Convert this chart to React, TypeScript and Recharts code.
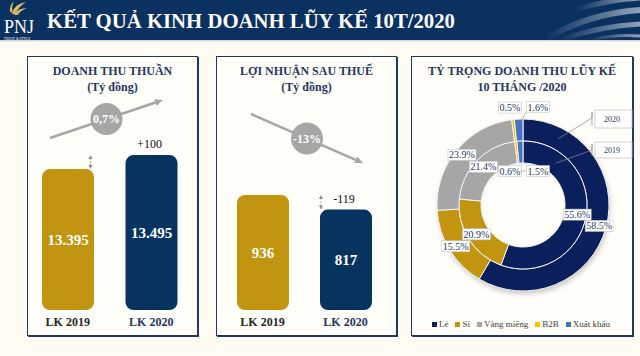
import React from 'react';
import { BarChart, Bar, XAxis, YAxis, Cell, LabelList, PieChart, Pie, Legend } from 'recharts';

const years = ['LK 2019', 'LK 2020'];
const revenue = [13395, 13495];
const revenueChange = ['', '+100'];
const revenueGrowth = '0,7%';
const profit = [936, 817];
const profitChange = ['', '-119'];
const profitGrowth = '-13%';

const segments = ['Lẻ', 'Sỉ', 'Vàng miếng', 'B2B', 'Xuất khẩu'];
const share2019 = [55.6, 20.9, 21.4, 0.6, 1.5];
const share2020 = [58.5, 15.5, 23.9, 0.5, 1.6];

const NAVY = '#1F3864';
const BAR_COLORS = ['#C29511', '#06345F'];
const SEG_COLORS = ['#0B1F5C', '#C29511', '#A6A6A6', '#FFC000', '#4472C4'];
const FONT = '"Liberation Serif", "DejaVu Serif", serif';
const BG = '#FDFBF2';

// donut geometry (inside the pie chart box)
const PIE_LEFT = 411;
const PIE_TOP = 57;
const CX = 112;
const CY = 148;
const R_IN = 42;
const R_MID = 64;
const R_OUT = 86;

const fmtVN = (v: number) => String(v).replace(/\B(?=(\d{3})+(?!\d))/g, '.');

const YearTick = ({ x, y, payload, index }: any) => (
  <text x={x} y={y + 8} textAnchor="middle" fontFamily={FONT} fontSize={12} fontWeight={700}
    fill={index === 1 ? NAVY : '#262626'}>{payload.value}</text>
);

type BarsProps = {
  values: number[];
  changes: string[];
  domain: [number, number];
  left: number;
  width: number;
  arrowDx: number;
};

function YearBars({ values, changes, domain, left, width, arrowDx }: BarsProps) {
  const data = years.map((name, i) => ({ name, value: values[i], change: changes[i] }));
  const lo = domain[0];

  const ChangeLabel = (p: any) => {
    const vb = p.viewBox ?? p;
    const { x, y, width: w, height: h } = vb;
    if (!p.value) return null;
    const base = y + h;
    const perUnit = h / (values[1] - lo);
    const prevTop = base - (values[0] - lo) * perUnit;
    const top = Math.min(y, prevTop);
    const bottom = Math.max(y, prevTop);
    const ax = x + arrowDx;
    return (
      <g>
        <text x={x + w / 2 - 2} y={y - 7} textAnchor="middle" fontFamily={FONT} fontSize={12} fill="#111">{p.value}</text>
        <line x1={ax} x2={ax} y1={top + 3} y2={bottom - 3} stroke="#8C8C8C" strokeWidth={1} strokeDasharray="1.5 1.5" />
        <path d={`M${ax} ${top} l-2 4 h4 z`} fill="#8C8C8C" />
        <path d={`M${ax} ${bottom} l-2 -4 h4 z`} fill="#8C8C8C" />
      </g>
    );
  };

  return (
    <div style={{ position: 'absolute', left, top: 130 }}>
      <BarChart width={width} height={210} data={data} margin={{ top: 20, right: 0, bottom: 0, left: 0 }}>
        <XAxis dataKey="name" axisLine={false} tickLine={false} height={30} interval={0} tick={<YearTick />} />
        <YAxis hide domain={domain} allowDataOverflow />
        <Bar dataKey="value" barSize={52} radius={8} isAnimationActive={false}>
          {data.map((_, i) => (
            <Cell key={`bar-${i}`} fill={BAR_COLORS[i]} />
          ))}
          <LabelList dataKey="value" position="center" formatter={(v: any) => fmtVN(Number(v))}
            fill="#fff" fontFamily={FONT} fontSize={15} fontWeight={700} />
          <LabelList dataKey="change" content={ChangeLabel} />
        </Bar>
      </BarChart>
    </div>
  );
}

const RAD = Math.PI / 180;

const makeLabel = (outer: boolean) => (p: any) => {
  const { cx, cy, midAngle, percent, index, value } = p;
  const tiny = percent < 0.02;
  const r = outer ? (tiny ? 98 : 79) : (tiny ? 34 : 55);
  let x = cx + r * Math.cos(-midAngle * RAD);
  const y = cy + r * Math.sin(-midAngle * RAD);
  if (tiny) x = cx + (index === 3 ? -13 : 15);
  const txt = `${Number(value).toFixed(1)}%`;
  const w = txt.length * 5 + 3;
  const lx = cx + (outer ? (R_MID + R_OUT) / 2 : (R_IN + R_MID) / 2) * Math.cos(-midAngle * RAD);
  const ly = cy + (outer ? R_OUT - 4 : R_MID - 4) * Math.sin(-midAngle * RAD);
  return (
    <g>
      {tiny && index === 4 && (
        <line x1={x - w / 2} y1={outer ? y + 4 : y} x2={outer ? lx + 1 : x - w / 2 - 6} y2={outer ? ly : y} stroke="#8C8C8C" strokeWidth={0.6} />
      )}
      <rect x={x - w / 2} y={y - 5.5} width={w} height={11} fill="#fff" stroke="#C8C8C8" strokeWidth={0.6} />
      <text x={x} y={y + 3.5} textAnchor="middle" fontFamily={FONT} fontSize={10} fill={NAVY}>{txt}</text>
    </g>
  );
};

const SegmentLegend = () => (
  <div style={{ display: 'flex', justifyContent: 'center', gap: 7, fontFamily: FONT, fontSize: 9, color: '#404040' }}>
    {segments.map((s, i) => (
      <span key={s} style={{ display: 'flex', alignItems: 'center', gap: 2 }}>
        <span style={{ width: 5, height: 5, background: SEG_COLORS[i], display: 'inline-block' }} />
        {s}
      </span>
    ))}
  </div>
);

function ShareDonut() {
  const d2019 = segments.map((name, i) => ({ name, value: share2019[i] }));
  const d2020 = segments.map((name, i) => ({ name, value: share2020[i] }));
  return (
    <div style={{ position: 'absolute', left: PIE_LEFT, top: PIE_TOP }}>
      <PieChart width={220} height={280} margin={{ top: 0, right: 0, bottom: 0, left: 0 }}>
        <Pie data={d2020} dataKey="value" nameKey="name" cx={CX} cy={CY} innerRadius={R_MID} outerRadius={R_OUT}
          startAngle={90} endAngle={-270} stroke="#F4F4F4" strokeWidth={1} label={makeLabel(true)} labelLine={false}
          isAnimationActive={false}>
          {d2020.map((_, i) => <Cell key={`o-${i}`} fill={SEG_COLORS[i]} />)}
        </Pie>
        <Pie data={d2019} dataKey="value" nameKey="name" cx={CX} cy={CY} innerRadius={R_IN} outerRadius={R_MID}
          startAngle={90} endAngle={-270} stroke="#F4F4F4" strokeWidth={1} label={makeLabel(false)} labelLine={false}
          isAnimationActive={false}>
          {d2019.map((_, i) => <Cell key={`i-${i}`} fill={SEG_COLORS[i]} />)}
        </Pie>
        <Legend content={<SegmentLegend />} wrapperStyle={{ position: 'absolute', left: 0, top: 262, width: 220, bottom: 'auto' }} />
      </PieChart>
    </div>
  );
}

const panel = (left: number, width: number): React.CSSProperties => ({
  position: 'absolute', left, top: 56, width, height: 280, boxSizing: 'border-box',
  border: `1px solid ${NAVY}`, boxShadow: `1px 1px 0 ${NAVY}`, background: '#FFFEF8',
});

const titleStyle = (left: number, width: number): React.CSSProperties => ({
  position: 'absolute', left, top: 63, width, textAlign: 'center', fontFamily: FONT, fontWeight: 700,
  fontSize: 12, lineHeight: '16px', color: NAVY,
});

const TrendArrow = ({ x1, y1, x2, y2, label }: { x1: number; y1: number; x2: number; y2: number; label: string }) => {
  const ang = Math.atan2(y2 - y1, x2 - x1);
  const mx = (x1 + x2) / 2;
  const my = (y1 + y2) / 2;
  const hx = x2 - 8 * Math.cos(ang);
  const hy = y2 - 8 * Math.sin(ang);
  const px = 3.5 * Math.sin(ang);
  const py = -3.5 * Math.cos(ang);
  return (
    <g>
      <line x1={x1} y1={y1} x2={hx} y2={hy} stroke="#A6A6A6" strokeWidth={2.5} />
      <path d={`M${x2} ${y2} L${hx + px} ${hy + py} L${hx - px} ${hy - py} Z`} fill="#A6A6A6" />
      <circle cx={mx} cy={my} r={16} fill="#A6A6A6" />
      <text x={mx} y={my + 4} textAnchor="middle" fontFamily={FONT} fontSize={12} fontWeight={700} fill="#fff">{label}</text>
    </g>
  );
};

export default function App() {
  const px = PIE_LEFT + CX;
  const py = PIE_TOP + CY;
  const m20 = { x: px + 75 * Math.sin(28 * RAD), y: py - 75 * Math.cos(28 * RAD) };
  const m19 = { x: px + 53 * Math.sin(38 * RAD), y: py - 53 * Math.cos(38 * RAD) };
  return (
    <div style={{ position: 'absolute', left: 0, top: 0, width: 640, height: 356, background: BG, overflow: 'hidden' }}>
      <svg width={640} height={42} style={{ position: 'absolute', left: 0, top: 0 }}>
        <defs>
          <linearGradient id="sw" x1="0" x2="1" y1="0" y2="0">
            <stop offset="0" stopColor="#fff" stopOpacity={0} />
            <stop offset="1" stopColor="#fff" stopOpacity={0.55} />
          </linearGradient>
          <linearGradient id="gold" x1="0" x2="1" y1="0" y2="1">
            <stop offset="0" stopColor="#F3DFA0" />
            <stop offset="1" stopColor="#B88A1E" />
          </linearGradient>
        </defs>
        <rect x={0} y={0} width={640} height={40} fill="#0B3161" />
        <rect x={0} y={40} width={640} height={1.5} fill="#D9D9D9" />
        <path d="M545 40 Q585 14 640 10" stroke="url(#sw)" strokeWidth={6} fill="none" />
        <path d="M560 40 Q600 26 640 24" stroke="url(#sw)" strokeWidth={5} fill="none" />
        <path d="M575 10 Q605 0 640 -2" stroke="url(#sw)" strokeWidth={5} fill="none" />
        <path d="M590 40 Q615 34 640 36" stroke="url(#sw)" strokeWidth={3} fill="none" />
        <path d="M12 14 Q14 4 26 2 Q18 7 16 14 Z" fill="url(#gold)" />
        <path d="M14 15 Q18 8 27 8 Q20 11 18 15 Z" fill="url(#gold)" />
        <path d="M10 12 Q9 6 14 1 Q11 7 13 13 Z" fill="url(#gold)" />
        <text x={4} y={33} fontFamily={FONT} fontSize={18} fill="#fff">PNJ</text>
        <text x={4} y={39.5} fontFamily={FONT} fontSize={3.5} fill="#fff">TRUST &amp; STYLE</text>
        <text x={47} y={28} fontFamily={FONT} fontSize={21} fontWeight={700} fill="#fff" textLength={408} lengthAdjust="spacingAndGlyphs">
          KẾT QUẢ KINH DOANH LŨY KẾ 10T/2020
        </text>
      </svg>

      <div style={panel(27, 171)} />
      <div style={panel(216, 181)} />
      <div style={panel(411, 222)} />

      <div style={titleStyle(27, 171)}>DOANH THU THUẦN<br />(Tỷ đồng)</div>
      <div style={titleStyle(216, 181)}>LỢI NHUẬN SAU THUẾ<br />(Tỷ đồng)</div>
      <div style={titleStyle(411, 222)}>TỶ TRỌNG DOANH THU LŨY KẾ<br />10 THÁNG /2020</div>

      <YearBars values={revenue} changes={revenueChange} domain={[12388, 13531]} left={26} width={167} arrowDx={-35} />
      <YearBars values={profit} changes={profitChange} domain={[0, 1302]} left={221} width={166} arrowDx={1} />

      <svg width={640} height={356} style={{ position: 'absolute', left: 0, top: 0 }}>
        <defs>
          <filter id="blur" x="-20%" y="-20%" width="140%" height="140%">
            <feGaussianBlur stdDeviation={3} />
          </filter>
        </defs>
        <circle cx={px + 1} cy={py + 3} r={(R_IN + R_OUT) / 2 + 2} fill="none" stroke="#000"
          strokeWidth={R_OUT - R_IN - 6} opacity={0.28} filter="url(#blur)" />
      </svg>

      <ShareDonut />

      <svg width={640} height={356} style={{ position: 'absolute', left: 0, top: 0, pointerEvents: 'none' }}>
        <TrendArrow x1={50} y1={138} x2={163} y2={100} label={revenueGrowth} />
        <TrendArrow x1={251} y1={114} x2={363} y2={163} label={profitGrowth} />
        <polyline points={`${m20.x},${m20.y} 592,118 592,112 592,126`} fill="none" stroke="#8C8C8C" strokeWidth={0.7} />
        <rect x={595} y={110} width={37} height={18} fill="#fff" stroke="#BFBFBF" strokeWidth={0.7} />
        <text x={612} y={122} textAnchor="middle" fontFamily={FONT} fontSize={8} fill={NAVY}>2020</text>
        <polyline points={`${m19.x},${m19.y} 592,150 592,144 592,156`} fill="none" stroke="#8C8C8C" strokeWidth={0.7} />
        <rect x={595} y={142} width={37} height={16} fill="#fff" stroke="#BFBFBF" strokeWidth={0.7} />
        <text x={612} y={153} textAnchor="middle" fontFamily={FONT} fontSize={8} fill={NAVY}>2019</text>
      </svg>
    </div>
  );
}
